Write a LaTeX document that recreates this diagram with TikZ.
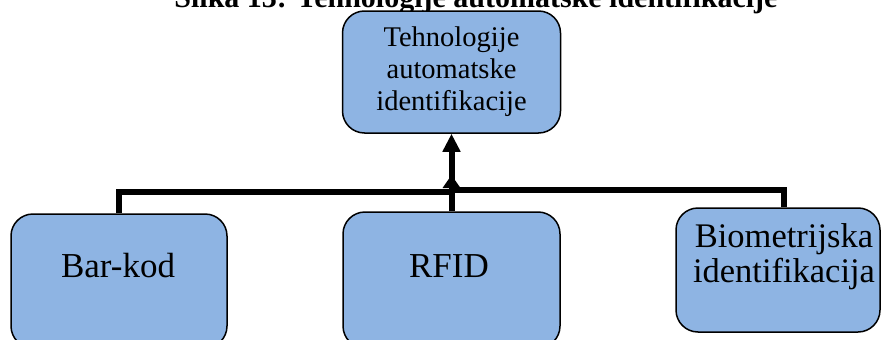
\documentclass[tikz,border=0pt]{standalone}
\usepackage{fontspec}
\setmainfont{Liberation Serif}
\usetikzlibrary{arrows.meta}
\definecolor{boxblue}{HTML}{8EB4E3}
\begin{document}
\begin{tikzpicture}[x=1pt,y=-1pt,
  box/.style={draw=black, line width=1.5pt, fill=boxblue, rounded corners=22pt, inner sep=0pt},
  conn/.style={line width=6pt, line join=miter},
  lbl/.style={font=\fontsize{35}{35}\selectfont, align=center, inner sep=0pt}]
\clip (0,0) rectangle (881,340);
\useasboundingbox (0,0) rectangle (881,340);
\node[font=\bfseries\fontsize{30}{30}\selectfont, anchor=base, inner sep=0pt] (title) at (476,7) {Slika 13: Tehnologije automatske identifikacije};
\node[box, minimum width=218pt, minimum height=122pt, align=center,
      font=\fontsize{28.5}{32}\selectfont] (top) at (451.5,72) {Tehnologije\\automatske\\identifikacije};
\node[box, minimum width=216pt, minimum height=134pt] (bar) at (119,281) {};
\node[box, minimum width=217pt, minimum height=136pt] (rfid) at (451.5,280) {};
\node[box, minimum width=204pt, minimum height=124pt] (bio) at (778,270) {};
\node[lbl, anchor=base] (barl) at (118,277) {Bar-kod};
\node[lbl, anchor=base] (rfidl) at (449,277) {RFID};
\node[lbl, font=\fontsize{34.5}{35}\selectfont] (biol) at (784,256.5) {Biometrijska\\identifikacija};
\coordinate (junL) at (451.5,192);
\coordinate (junR) at (451.5,190);
\coordinate (tipJ) at (451.5,175);
\draw[conn] (bar.north) |- (junL);
\draw[conn,-{Triangle[length=13pt,width=17pt]}] ([xshift=6pt]bio.north) |- (junR) -- (tipJ);
\draw[conn,-{Triangle[length=18pt,width=17pt]}] (rfid.north) -- (top.south);
\end{tikzpicture}
\end{document}
